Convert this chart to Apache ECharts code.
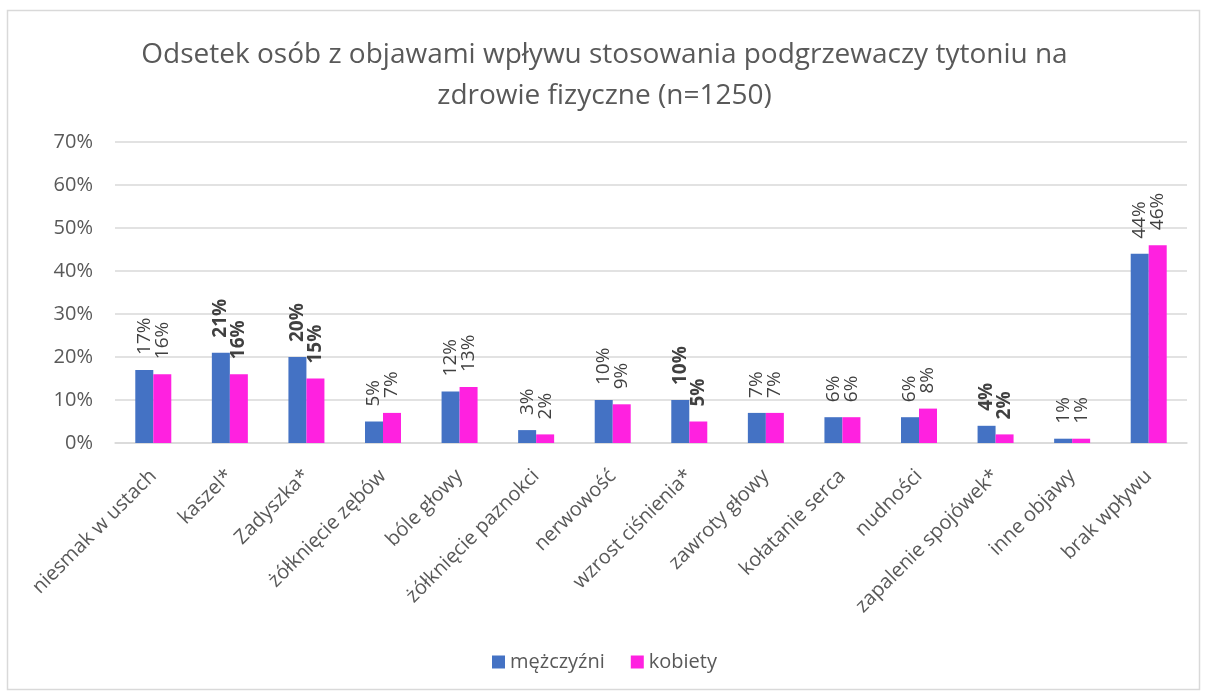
<!DOCTYPE html>
<html>
<head>
<meta charset="utf-8">
<script src="https://cdn.jsdelivr.net/npm/echarts@6/dist/echarts.min.js"></script>
<style>
  html, body { margin: 0; padding: 0; background: #fff; }
  #container { width: 1209px; height: 695px; }
</style>
</head>
<body>
<div id="container"></div>
<script>
var categories = ['niesmak w ustach', 'kaszel*', 'Zadyszka*', 'żółknięcie zębów', 'bóle głowy',
    'żółknięcie paznokci', 'nerwowość', 'wzrost ciśnienia*', 'zawroty głowy', 'kołatanie serca',
    'nudności', 'zapalenie spojówek*', 'inne objawy', 'brak wpływu'];
var men = [17, 21, 20, 5, 12, 3, 10, 10, 7, 6, 6, 4, 1, 44];
var women = [16, 16, 15, 7, 13, 2, 9, 5, 7, 6, 8, 2, 1, 46];
// kategorie z istotną różnicą - etykiety pogrubione
var boldCats = ['kaszel*', 'Zadyszka*', 'wzrost ciśnienia*', 'zapalenie spojówek*'];

var font = '"Open Sans", "Liberation Sans", sans-serif';

function makeData(values) {
    return values.map(function (v, i) {
        return {
            value: v,
            label: { fontWeight: boldCats.indexOf(categories[i]) >= 0 ? 'bold' : 'normal' }
        };
    });
}

var barLabel = {
    show: true,
    position: 'top',
    rotate: 90,
    align: 'left',
    verticalAlign: 'middle',
    distance: 15,
    color: '#404040',
    fontSize: 19,
    fontFamily: font,
    formatter: '{c}%'
};

var myChart = echarts.init(document.getElementById('container'));
var option = {
    animation: false,
    graphic: [{
        type: 'rect',
        shape: { x: 7.5, y: 10.5, width: 1192, height: 679 },
        style: { fill: 'none', stroke: '#d9d9d9', lineWidth: 1.5 },
        silent: true,
        z: -1
    }],
    title: {
        text: 'Odsetek osób z objawami wpływu stosowania podgrzewaczy tytoniu na\nzdrowie fizyczne (n=1250)',
        left: 'center',
        top: 30,
        textStyle: {
            fontFamily: font,
            fontWeight: 'normal',
            fontSize: 28,
            color: '#595959',
            lineHeight: 41
        }
    },
    legend: {
        data: ['mężczyźni', 'kobiety'],
        bottom: 18,
        left: 'center',
        itemWidth: 13,
        itemHeight: 13,
        itemGap: 26,
        itemTextGap: 4,
        icon: 'rect',
        textStyle: { fontFamily: font, fontSize: 20, color: '#595959' }
    },
    grid: {
        left: 115,
        right: 22,
        top: 142,
        bottom: 252
    },
    xAxis: {
        type: 'category',
        data: categories,
        axisTick: { show: false },
        axisLine: { lineStyle: { color: '#d9d9d9', width: 1.5 } },
        axisLabel: {
            interval: 0,
            rotate: 45,
            margin: 30,
            fontFamily: font,
            fontSize: 20,
            color: '#595959'
        }
    },
    yAxis: {
        type: 'value',
        min: 0,
        max: 70,
        interval: 10,
        axisLine: { show: false },
        axisTick: { show: false },
        splitLine: { lineStyle: { color: '#d9d9d9', width: 1.5 } },
        axisLabel: {
            formatter: '{value}%',
            margin: 22,
            fontFamily: font,
            fontSize: 20,
            color: '#595959'
        }
    },
    series: [
        {
            name: 'mężczyźni',
            type: 'bar',
            barWidth: 18,
            barGap: '0%',
            itemStyle: { color: '#4472C4' },
            label: barLabel,
            data: makeData(men)
        },
        {
            name: 'kobiety',
            type: 'bar',
            barWidth: 18,
            itemStyle: { color: '#FF21E0' },
            label: barLabel,
            data: makeData(women)
        }
    ]
};
myChart.setOption(option);
</script>
</body>
</html>
